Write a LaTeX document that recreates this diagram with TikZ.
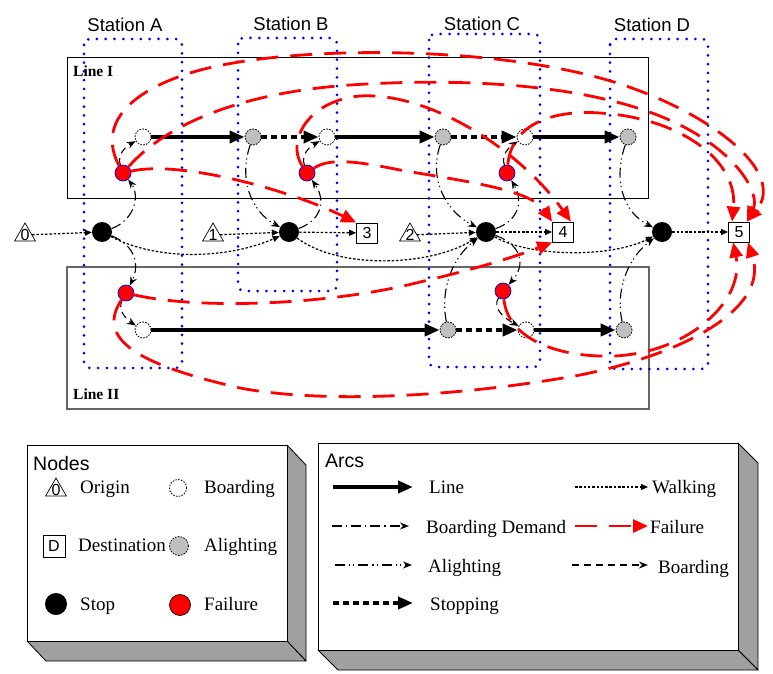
\documentclass[tikz,border=0pt]{standalone}
\usepackage{fontspec}
\setmainfont{Liberation Serif}
\setsansfont{Liberation Sans}
\usetikzlibrary{arrows.meta,shapes.geometric}

\definecolor{failred}{RGB}{255,0,0}
\definecolor{stnblue}{RGB}{0,0,255}
\definecolor{altgray}{RGB}{191,191,191}
\definecolor{sidegray}{RGB}{160,160,160}

\tikzset{
  boardn/.style={circle, draw=black, fill=white, dash pattern=on 1.6pt off 1.3pt, line width=0.8pt, minimum size=16pt, inner sep=0pt},
  alightn/.style={boardn, fill=altgray},
  failn/.style={circle, draw=stnblue, fill=failred, line width=0.7pt, minimum size=16pt, inner sep=0pt},
  stopn/.style={circle, fill=black, minimum size=20pt, inner sep=0pt},
  orign/.style={regular polygon, regular polygon sides=3, draw=black, line width=0.7pt, minimum size=24pt, inner sep=0pt},
  digit/.style={font=\fontsize{16}{16}\sffamily, inner sep=0pt},
  destn/.style={rectangle, draw=black, line width=0.8pt, minimum width=21pt, minimum height=20pt, inner sep=0pt, font=\fontsize{16}{16}\sffamily},
  linearc/.style={line width=4pt, -{Triangle[length=15pt,width=12pt]}},
  stoparc/.style={line width=4pt, dash pattern=on 6pt off 4pt, -{Triangle[length=15pt,width=12pt]}},
  walkarc/.style={line width=1.2pt, dash pattern=on 2.5pt off 1.8pt, -{Triangle[length=7pt,width=6pt]}},
  demandarc/.style={line width=1.1pt, dash pattern=on 10pt off 4pt on 1.2pt off 4pt, -{Stealth[length=9pt,width=7pt]}},
  alightarc/.style={line width=1.1pt, dash pattern=on 10pt off 4pt on 1.2pt off 3pt on 1.2pt off 4pt, -{Stealth[length=9pt,width=7pt]}},
  boardarc/.style={line width=1.1pt, dash pattern=on 7pt off 5pt, -{Stealth[length=9pt,width=7pt]}},
  failarc/.style={draw=failred, line width=2.8pt, dash pattern=on 22pt off 12pt, -{Triangle[length=15pt,width=13pt]}},
  stnbox/.style={draw=stnblue, line width=3pt, dash pattern=on 0pt off 8.8pt, line cap=round, rounded corners=6pt},
  stnlbl/.style={font=\fontsize{18.5}{20}\sffamily, anchor=base, inner sep=0pt},
  linelbl/.style={font=\fontsize{15.5}{17}\bfseries, anchor=base west, inner sep=0pt},
  legtxt/.style={font=\fontsize{19}{20}\selectfont, anchor=base west, inner sep=0pt},
  hdr/.style={font=\fontsize{19.5}{21}\sffamily, anchor=base west, inner sep=0pt},
  sideface/.style={fill=sidegray, draw=black, line width=0.8pt, line join=round},
  frontface/.style={fill=white, draw=black, line width=0.9pt}
}

\begin{document}
\begin{tikzpicture}[x=1pt,y=-1pt]
\useasboundingbox (0,0) rectangle (773,674);

% line frames
\draw[line width=0.8pt] (67,57) rectangle (648,198);
\draw[line width=1.1pt, draw=black!60] (67,267) rectangle (649,409);
\node[linelbl] (lblI) at (73,77) {Line I};
\node[linelbl] (lblII) at (73,399) {Line II};

% stations
\draw[stnbox] (84,39) rectangle (182,368);
\draw[stnbox] (238,38) rectangle (337,291);
\draw[stnbox] (429,34) rectangle (540,367);
\draw[stnbox] (610,39) rectangle (708,369);
\node[stnlbl] (labA) at (125,32) {Station A};
\node[stnlbl] (labB) at (291,31) {Station B};
\node[stnlbl] (labC) at (482,31) {Station C};
\node[stnlbl] (labD) at (652,32) {Station D};

% line I nodes
\node[boardn]  (bA1) at (143,137) {};
\node[alightn] (aB1) at (253,137) {};
\node[boardn]  (bB1) at (327,137) {};
\node[alightn] (aC1) at (443,137) {};
\node[boardn]  (bC1) at (525,137) {};
\node[alightn] (aD1) at (628,137) {};
\node[failn] (fA1) at (123,173) {};
\node[failn] (fB1) at (307,173) {};
\node[failn] (fC1) at (507,173) {};

% stops, origins, destinations
\node[stopn] (sA) at (102,232) {};
\node[stopn] (sB) at (289,232) {};
\node[stopn] (sC) at (486,232) {};
\node[stopn] (sD) at (662,232) {};
\node[orign, label={[digit]center:0}] (o0) at (25,235) {};
\node[orign, label={[digit]center:1}] (o1) at (213,235) {};
\node[orign, label={[digit]center:2}] (o2) at (410,235) {};
\node[destn] (d3) at (367,233) {3};
\node[destn] (d4) at (563,232) {4};
\node[destn] (d5) at (739,232) {5};

% line II nodes
\node[failn] (fA2) at (126,293) {};
\node[failn] (fC2) at (503,291) {};
\node[boardn]  (bA2) at (143,330) {};
\node[alightn] (aC2) at (448,330) {};
\node[boardn]  (bC2) at (526,330) {};
\node[alightn] (aD2) at (624,330) {};

% walking arcs
\draw[walkarc] (o0) -- (sA);
\draw[walkarc] (o1) -- (sB);
\draw[walkarc] (o2) -- (sC);
\draw[walkarc] (sB) -- (d3);
\draw[walkarc] (sC) -- (d4);
\draw[walkarc] (sD) -- (d5);
\draw[walkarc] (sA) .. controls (160,262) and (230,258) .. (sB);
\draw[walkarc] (sB) .. controls (340,270) and (430,266) .. (sC);
\draw[walkarc] (sC) .. controls (530,257) and (610,258) .. (sD);

% alighting arcs
\draw[alightarc] (aB1) .. controls (238,180) and (252,212) .. (sB);
\draw[alightarc] (aC1) .. controls (428,180) and (447,212) .. (sC);
\draw[alightarc] (aD1) .. controls (613,180) and (623,212) .. (sD);
\draw[alightarc] (aC2) .. controls (440,290) and (452,258) .. (sC);
\draw[alightarc] (aD2) .. controls (615,290) and (628,258) .. (sD);

% boarding demand arcs
\draw[demandarc] (sA) .. controls (135,220) and (140,195) .. (fA1);
\draw[demandarc] (sB) .. controls (322,220) and (326,200) .. (fB1);
\draw[demandarc] (sC) .. controls (520,220) and (523,200) .. (fC1);
\draw[demandarc] (sA) .. controls (135,245) and (140,265) .. (fA2);
\draw[demandarc] (sC) .. controls (522,245) and (526,265) .. (fC2);

% boarding arcs
\draw[boardarc] (fA1) .. controls (117,155) and (125,147) .. (bA1);
\draw[boardarc] (fB1) .. controls (301,155) and (309,147) .. (bB1);
\draw[boardarc] (fC1) .. controls (501,155) and (509,147) .. (bC1);
\draw[boardarc] (fA2) .. controls (118,308) and (124,318) .. (bA2);
\draw[boardarc] (fC2) .. controls (492,308) and (504,318) .. (bC2);

% line and stopping arcs
\draw[linearc] (bA1) -- (aB1);
\draw[stoparc] (aB1) -- (bB1);
\draw[linearc] (bB1) -- (aC1);
\draw[stoparc] (aC1) -- (bC1);
\draw[linearc] (bC1) -- (aD1);
\draw[linearc] (bA2) -- (aC2);
\draw[stoparc] (aC2) -- (bC2);
\draw[linearc] (bC2) -- (aD2);

% failure arcs
\draw[failarc] (fA1) .. controls (180,160) and (290,190) .. (d3.north west);
\draw[failarc] (fA1) .. controls (100,130) and (120,95) .. (190,73)
  .. controls (280,45) and (480,45) .. (600,78)
  .. controls (700,105) and (790,170) .. ([xshift=-3pt]d5.north east);
\draw[failarc] (fA1) .. controls (170,120) and (250,92) .. (350,85)
  .. controls (470,77) and (600,85) .. (680,125)
  .. controls (740,155) and (760,195) .. ([xshift=-3pt]d5.north east);
\draw[failarc] (fB1) .. controls (285,140) and (310,100) .. (360,96)
  .. controls (430,92) and (520,150) .. ([xshift=-3pt]d4.north east);
\draw[failarc] (fB1) .. controls (330,157) and (360,162) .. (400,170)
  .. controls (470,182) and (530,190) .. (d4.north west);
\draw[failarc] (fC1) .. controls (512,120) and (560,110) .. (600,113)
  .. controls (680,118) and (738,160) .. ([xshift=4pt]d5.north west);
\draw[failarc] (fA2) .. controls (200,310) and (330,305) .. (420,282)
  .. controls (480,268) and (520,255) .. (d4.south west);
\draw[failarc] (fA2) .. controls (95,340) and (140,365) .. (240,388)
  .. controls (330,405) and (470,395) .. (580,375)
  .. controls (680,355) and (770,310) .. ([xshift=-2pt]d5.south east);
\draw[failarc] (fC2) .. controls (508,340) and (560,358) .. (615,356)
  .. controls (690,352) and (745,300) .. ([xshift=5pt]d5.south west);

% legend: nodes
\filldraw[sideface] (287,445) -- (306,465) -- (306,661) -- (287,641) -- cycle;
\filldraw[sideface] (27,641) -- (287,641) -- (306,661) -- (46,661) -- cycle;
\filldraw[frontface] (27,445) rectangle (287,641);
\node[hdr] (hNodes) at (33,470) {Nodes};
\node[orign, label={[digit]center:0}] (lgO) at (56,490) {};
\node[legtxt] (lgOt) at (80,493) {Origin};
\node[boardn, minimum size=17pt] (lgB) at (178,488) {};
\node[legtxt] (lgBt) at (204,493) {Boarding};
\node[destn, minimum width=22pt, minimum height=22pt] (lgD) at (54,546) {D};
\node[legtxt] (lgDt) at (78,551) {Destination};
\node[alightn, minimum size=19pt] (lgA) at (179,546) {};
\node[legtxt] (lgAt) at (204,551) {Alighting};
\node[stopn, minimum size=22pt] (lgS) at (56,604) {};
\node[legtxt] (lgSt) at (80,610) {Stop};
\node[failn, draw=black, minimum size=21pt] (lgF) at (180,605) {};
\node[legtxt] (lgFt) at (204,610) {Failure};

% legend: arcs
\filldraw[sideface] (738,443) -- (758,463) -- (758,670) -- (738,650) -- cycle;
\filldraw[sideface] (318,650) -- (738,650) -- (758,670) -- (338,670) -- cycle;
\filldraw[frontface] (318,443) rectangle (738,650);
\node[hdr] (hArcs) at (325,467) {Arcs};
\coordinate (kL1) at (333,487); \coordinate (kL2) at (413,487);
\coordinate (kW1) at (575,487); \coordinate (kW2) at (648,487);
\coordinate (kD1) at (332,526); \coordinate (kD2) at (409,526);
\coordinate (kF1) at (575,526); \coordinate (kF2) at (648,526);
\coordinate (kA1) at (335,565); \coordinate (kA2) at (412,565);
\coordinate (kB1) at (572,565); \coordinate (kB2) at (648,565);
\coordinate (kS1) at (333,603); \coordinate (kS2) at (413,603);
\draw[linearc] (kL1) -- (kL2);
\draw[walkarc] (kW1) -- (kW2);
\draw[demandarc] (kD1) -- (kD2);
\draw[failarc] (kF1) -- (kF2);
\draw[alightarc] (kA1) -- (kA2);
\draw[boardarc] (kB1) -- (kB2);
\draw[stoparc] (kS1) -- (kS2);
\node[legtxt] (tL) at (429,493) {Line};
\node[legtxt] (tW) at (652,493) {Walking};
\node[legtxt] (tD) at (426,533) {Boarding Demand};
\node[legtxt] (tF) at (650,533) {Failure};
\node[legtxt] (tA) at (428,572) {Alighting};
\node[legtxt] (tB) at (658,573) {Boarding};
\node[legtxt] (tS) at (430,610) {Stopping};
\end{tikzpicture}
\end{document}
